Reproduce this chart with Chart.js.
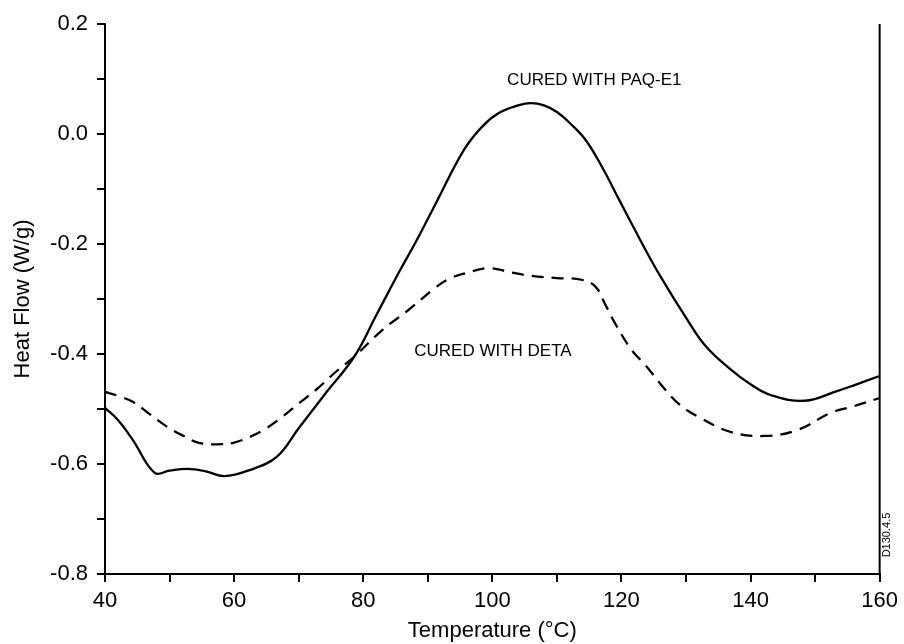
<!DOCTYPE html>
<html>
<head>
<meta charset="utf-8">
<script src="https://cdn.jsdelivr.net/npm/chart.js@4/dist/chart.umd.min.js"></script>
<style>
html,body{margin:0;padding:0;background:#fff;}
#wrap{width:904px;height:644px;position:relative;}
</style>
</head>
<body>
<div id="wrap"><canvas id="c" width="904" height="644"></canvas></div>
<script>
const paqTemps = [40, 42, 44.3, 47.7, 50, 52.7, 55.5, 58.5, 62.4, 66.6, 70, 74, 78.6, 82, 85.6, 88.2, 91.3, 95.6, 98.4, 101, 104, 106, 108, 110, 112, 114.4, 117, 119, 121, 123.7, 126, 129.9, 133, 137, 140, 143.2, 148.4, 153.5, 156, 160];
const paqValues = [-0.498, -0.52, -0.556, -0.616, -0.612, -0.609, -0.613, -0.622, -0.611, -0.587, -0.535, -0.474, -0.405, -0.33, -0.25, -0.195, -0.125, -0.029, 0.013, 0.038, 0.052, 0.056, 0.052, 0.04, 0.02, -0.01, -0.06, -0.105, -0.15, -0.21, -0.258, -0.332, -0.385, -0.429, -0.455, -0.475, -0.485, -0.467, -0.457, -0.44];
const detaTemps = [40, 42, 44.3, 47, 49.6, 52, 54.7, 58.2, 60, 62.4, 65, 67.5, 70, 72.7, 76, 78.6, 83, 87, 90.7, 93, 95.9, 99.5, 103, 106.1, 110, 113.8, 116, 117.5, 119, 121.6, 123.7, 126.8, 129, 131.9, 137, 142.2, 147.3, 152.4, 156, 160];
const detaValues = [-0.469, -0.476, -0.487, -0.51, -0.532, -0.548, -0.562, -0.564, -0.561, -0.551, -0.535, -0.514, -0.49, -0.465, -0.43, -0.405, -0.356, -0.32, -0.284, -0.265, -0.253, -0.244, -0.252, -0.258, -0.262, -0.265, -0.278, -0.31, -0.344, -0.393, -0.42, -0.465, -0.492, -0.514, -0.542, -0.549, -0.538, -0.507, -0.495, -0.48];
const seriesNames = ['CURED WITH PAQ-E1', 'CURED WITH DETA'];
const xTitle = 'Temperature (°C)';
const yTitle = 'Heat Flow (W/g)';
const figId = 'D130.4.5';

const FONT = "'Liberation Sans', Arial, Helvetica, sans-serif";
Chart.defaults.font.family = FONT;
Chart.defaults.color = '#000';

function pts(xs, ys){ return xs.map((x,i)=>({x:x,y:ys[i]})); }

const annot = {
  id:'annot',
  afterDraw(chart){
    const ctx = chart.ctx, a = chart.chartArea;
    const xs = chart.scales.x, ys = chart.scales.y;
    ctx.save();
    ctx.strokeStyle = '#000'; ctx.lineWidth = 2;
    ctx.beginPath(); ctx.moveTo(a.right, a.top); ctx.lineTo(a.right, a.bottom); ctx.stroke();
    ctx.fillStyle = '#000';
    ctx.font = '17px ' + FONT;
    ctx.textAlign = 'center'; ctx.textBaseline = 'middle';
    ctx.fillText(seriesNames[0], xs.getPixelForValue(115.8), ys.getPixelForValue(0.098));
    ctx.fillText(seriesNames[1], xs.getPixelForValue(100.1), ys.getPixelForValue(-0.395));
    ctx.translate(a.right + 7, a.bottom - 39);
    ctx.rotate(-Math.PI/2);
    ctx.font = '11px ' + FONT;
    ctx.fillText(figId, 0, 0);
    ctx.restore();
  }
};

new Chart(document.getElementById('c'), {
  type:'line',
  data:{
    datasets:[
      {label:seriesNames[0], data:pts(paqTemps, paqValues), borderColor:'#000', borderWidth:2.3, pointRadius:0, tension:0.4, fill:false},
      {label:seriesNames[1], data:pts(detaTemps, detaValues), borderColor:'#000', borderWidth:2.3, borderDash:[12,8], pointRadius:0, tension:0.4, fill:false}
    ]
  },
  options:{
    responsive:false,
    animation:false,
    devicePixelRatio:1,
    layout:{padding:{top:24, right:18, left:0, bottom:0}},
    plugins:{legend:{display:false}, tooltip:{enabled:false}},
    scales:{
      x:{
        type:'linear', min:40, max:160,
        afterFit(s){ s.height = 70; },
        border:{display:true, color:'#000', width:2},
        grid:{drawOnChartArea:false, drawTicks:true, tickLength:8, color:'#000', lineWidth:2},
        ticks:{stepSize:10, autoSkip:false, maxRotation:0, padding:6, font:{size:22},
          callback:(v)=> (Math.round(v)%20===0 ? String(Math.round(v)) : '')},
        title:{display:true, text:xTitle, font:{size:22}, padding:{top:0,bottom:0}}
      },
      y:{
        type:'linear', min:-0.8, max:0.2,
        afterFit(s){ s.width = 105; },
        border:{display:true, color:'#000', width:2},
        grid:{drawOnChartArea:false, drawTicks:true, tickLength:8, color:'#000', lineWidth:2},
        ticks:{stepSize:0.1, autoSkip:false, padding:9, font:{size:22},
          callback:(v)=>{ const k=Math.round(v*10); return (k%2===0) ? (k/10).toFixed(1) : ''; }},
        title:{display:true, text:yTitle, font:{size:22}, padding:{top:10,bottom:0}}
      }
    }
  },
  plugins:[annot]
});
</script>
</body>
</html>
